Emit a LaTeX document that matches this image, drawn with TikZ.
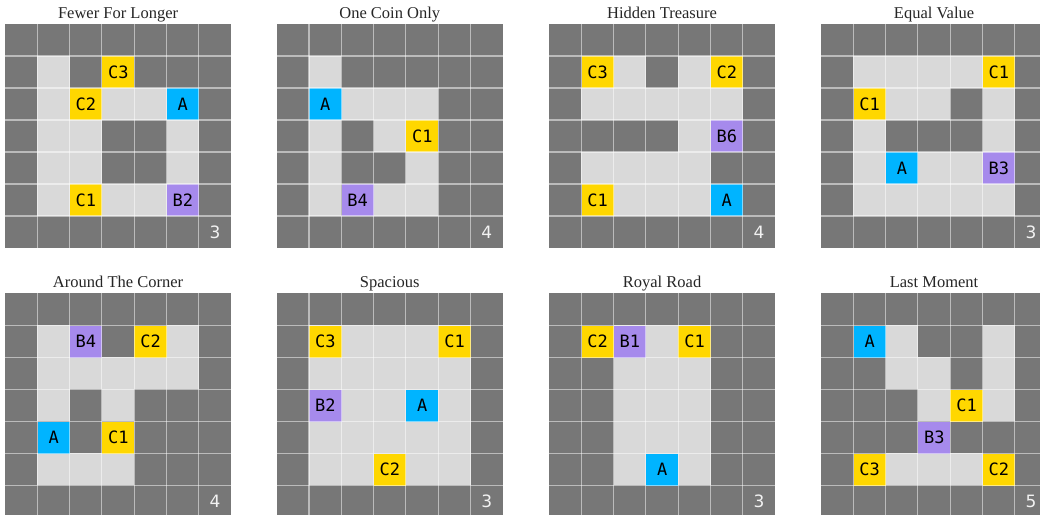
\documentclass[tikz,border=0pt]{standalone}
\usepackage{fontspec}
\newfontfamily\ttlfont{Liberation Serif}
\newfontfamily\labfont{DejaVu Sans Mono}
\newfontfamily\cntfont{DejaVu Sans}
\definecolor{wallc}{HTML}{777777}
\definecolor{floorc}{HTML}{D9D9D9}
\definecolor{coinc}{HTML}{FFD700}
\definecolor{agentc}{HTML}{00B4FF}
\definecolor{boxc}{HTML}{A68AEC}
\definecolor{cntc}{HTML}{F2F2F2}
\tikzset{
  maze/.style={x=32.3pt,y=-32pt},
  floorfill/.style={fill=floorc},
  tile/.style={anchor=north west,minimum width=32.3pt,minimum height=32pt,inner sep=0pt,
    font=\labfont\fontsize{17}{17}\selectfont,text=black},
  coin/.style={tile,fill=coinc},
  agent/.style={tile,fill=agentc},
  boxt/.style={tile,fill=boxc},
  gline/.style={draw=white,draw opacity=0.5,line width=1.1pt},
  ttl/.style={anchor=base,inner sep=0pt,font=\ttlfont\fontsize{16.5}{18}\selectfont,text=black!85},
  cnt/.style={inner sep=0pt,font=\cntfont\fontsize{17}{17}\selectfont,text=cntc}
}
\newcommand\mazebase{\fill[wallc] (0,0) rectangle (7,7);}
\newcommand\mazelines{\foreach \i in {1,...,6}{\draw[gline] (\i,0) -- (\i,7); \draw[gline] (0,\i) -- (7,\i);}}
\begin{document}
\begin{tikzpicture}[x=1pt,y=-1pt]
\useasboundingbox (0,0) rectangle (1040,514);
\clip (0,0) rectangle (1040,514);
\fill[white] (0,0) rectangle (1040,514);

% 1 Fewer For Longer
\begin{scope}[shift={(5,24)},maze]
\mazebase
\foreach \c/\r in {1/1,1/2,3/2,4/2,1/3,2/3,5/3,1/4,2/4,5/4,1/5,3/5,4/5}{\fill[floorfill] (\c,\r) rectangle ++(1,1);}
\node[coin] (g1c3) at (3,1) {C3};
\node[coin] (g1c2) at (2,2) {C2};
\node[agent] (g1a) at (5,2) {A};
\node[coin] (g1c1) at (2,5) {C1};
\node[boxt] (g1b) at (5,5) {B2};
\mazelines
\node[cnt] (g1n) at (6.5,6.5) {3};
\node[ttl] (g1t) at (3.5,-0.17) {Fewer For Longer};
\end{scope}

% 2 One Coin Only
\begin{scope}[shift={(276.7,24)},maze]
\mazebase
\foreach \c/\r in {1/1,2/2,3/2,4/2,1/3,3/3,1/4,4/4,1/5,3/5,4/5}{\fill[floorfill] (\c,\r) rectangle ++(1,1);}
\node[agent] (g2a) at (1,2) {A};
\node[coin] (g2c1) at (4,3) {C1};
\node[boxt] (g2b) at (2,5) {B4};
\mazelines
\node[cnt] (g2n) at (6.5,6.5) {4};
\node[ttl] (g2t) at (3.5,-0.17) {One Coin Only};
\end{scope}

% 3 Hidden Treasure
\begin{scope}[shift={(549,24)},maze]
\mazebase
\foreach \c/\r in {2/1,4/1,1/2,2/2,3/2,4/2,5/2,4/3,1/4,2/4,3/4,4/4,2/5,3/5,4/5}{\fill[floorfill] (\c,\r) rectangle ++(1,1);}
\node[coin] (g3c3) at (1,1) {C3};
\node[coin] (g3c2) at (5,1) {C2};
\node[boxt] (g3b) at (5,3) {B6};
\node[coin] (g3c1) at (1,5) {C1};
\node[agent] (g3a) at (5,5) {A};
\mazelines
\node[cnt] (g3n) at (6.5,6.5) {4};
\node[ttl] (g3t) at (3.5,-0.17) {Hidden Treasure};
\end{scope}

% 4 Equal Value
\begin{scope}[shift={(821,24)},maze]
\mazebase
\foreach \c/\r in {1/1,2/1,3/1,4/1,2/2,3/2,5/2,1/3,5/3,1/4,3/4,4/4,1/5,2/5,3/5,4/5,5/5}{\fill[floorfill] (\c,\r) rectangle ++(1,1);}
\node[coin] (g4c1a) at (5,1) {C1};
\node[coin] (g4c1b) at (1,2) {C1};
\node[agent] (g4a) at (2,4) {A};
\node[boxt] (g4b) at (5,4) {B3};
\mazelines
\node[cnt] (g4n) at (6.5,6.5) {3};
\node[ttl] (g4t) at (3.5,-0.17) {Equal Value};
\end{scope}

% 5 Around The Corner
\begin{scope}[shift={(5,293.3)},maze]
\mazebase
\foreach \c/\r in {1/1,5/1,1/2,2/2,3/2,4/2,5/2,1/3,3/3,1/5,2/5,3/5}{\fill[floorfill] (\c,\r) rectangle ++(1,1);}
\node[boxt] (g5b) at (2,1) {B4};
\node[coin] (g5c2) at (4,1) {C2};
\node[agent] (g5a) at (1,4) {A};
\node[coin] (g5c1) at (3,4) {C1};
\mazelines
\node[cnt] (g5n) at (6.5,6.5) {4};
\node[ttl] (g5t) at (3.5,-0.17) {Around The Corner};
\end{scope}

% 6 Spacious
\begin{scope}[shift={(276.7,293.3)},maze]
\mazebase
\fill[floorfill] (1,1) rectangle (6,6);
\node[coin] (g6c3) at (1,1) {C3};
\node[coin] (g6c1) at (5,1) {C1};
\node[boxt] (g6b) at (1,3) {B2};
\node[agent] (g6a) at (4,3) {A};
\node[coin] (g6c2) at (3,5) {C2};
\mazelines
\node[cnt] (g6n) at (6.5,6.5) {3};
\node[ttl] (g6t) at (3.5,-0.17) {Spacious};
\end{scope}

% 7 Royal Road
\begin{scope}[shift={(549,293.3)},maze]
\mazebase
\fill[floorfill] (2,1) rectangle (5,6);
\node[coin] (g7c2) at (1,1) {C2};
\node[boxt] (g7b) at (2,1) {B1};
\node[coin] (g7c1) at (4,1) {C1};
\node[agent] (g7a) at (3,5) {A};
\mazelines
\node[cnt] (g7n) at (6.5,6.5) {3};
\node[ttl] (g7t) at (3.5,-0.17) {Royal Road};
\end{scope}

% 8 Last Moment
\begin{scope}[shift={(821,293.3)},maze]
\mazebase
\foreach \c/\r in {2/1,5/1,2/2,3/2,5/2,3/3,5/3,2/5,3/5,4/5}{\fill[floorfill] (\c,\r) rectangle ++(1,1);}
\node[agent] (g8a) at (1,1) {A};
\node[coin] (g8c1) at (4,3) {C1};
\node[boxt] (g8b) at (3,4) {B3};
\node[coin] (g8c3) at (1,5) {C3};
\node[coin] (g8c2) at (5,5) {C2};
\mazelines
\node[cnt] (g8n) at (6.5,6.5) {5};
\node[ttl] (g8t) at (3.5,-0.17) {Last Moment};
\end{scope}
\end{tikzpicture}
\end{document}
